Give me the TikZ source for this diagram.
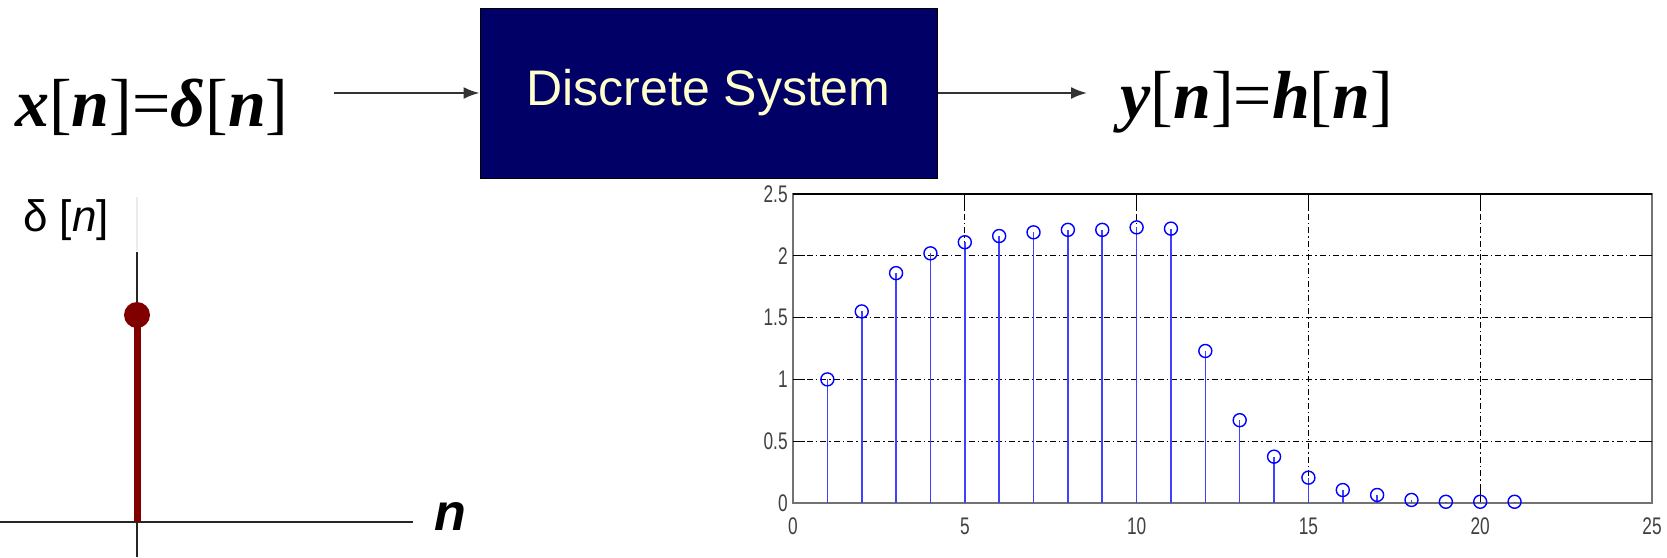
\documentclass[tikz,border=0pt]{standalone}
\usepackage{fontspec}
\setmainfont{Liberation Serif}
\setsansfont{Liberation Sans}
\usepackage{tikz}
\usetikzlibrary{arrows.meta,positioning}

\definecolor{sysfill}{RGB}{0,0,102}
\definecolor{systext}{RGB}{255,255,204}
\definecolor{deltared}{RGB}{128,0,0}
\newcommand{\bfit}[1]{\textbf{\textit{#1}}}
\newcommand{\tlab}[1]{\scalebox{0.72}[1]{#1}}

\begin{document}
\begin{tikzpicture}[x=1pt, y=1pt,
  sig/.style={inner sep=0pt, font=\fontsize{68}{68}\selectfont},
  sysbox/.style={draw=black, line width=1pt, fill=sysfill, text=systext,
    minimum width=457pt, minimum height=170pt,
    font=\sffamily\fontsize{50}{50}\selectfont},
  flow/.style={-{Latex[length=16pt,width=12pt]}, line width=2pt, draw=black!80},
  grd/.style={black, line width=1.2pt, dash pattern=on 6pt off 3pt on 1.5pt off 3pt},
  tk/.style={text=black!75, inner sep=0pt, font=\sffamily\fontsize{24}{24}\selectfont},
  stm/.style={blue!75, line width=1.6pt},
  mk/.style={circle, draw=blue, line width=1.4pt, minimum size=13pt, inner sep=0pt}]
  \useasboundingbox (0,0) rectangle (1667,-557);

  % block diagram
  \node[sysbox] (sys) at (708.5,-93) {Discrete System};
  \node[sig, anchor=base west] (xin) at (15,-126)
       {\bfit{x}[\bfit{n}]=\bfit{δ}[\bfit{n}]};
  \node[sig, anchor=base west] (yout) at (1120,-118)
       {\bfit{y}[\bfit{n}]=\bfit{h}[\bfit{n}]};
  \draw[flow, shorten <=45pt] (xin.east |- sys.west) -- (sys.west);
  \draw[flow, shorten >=33pt] (sys.east) -- (sys.east -| yout.west);

  % unit impulse
  \draw[black!8, line width=1.5pt] (137,-197) -- (137,-251);
  \draw[black!85, line width=2pt] (0,-521.7) -- (413,-521.7);
  \draw[black!85, line width=1.5pt] (137,-252) -- (137,-557);
  \draw[deltared, line width=7pt] (137,-521.7) -- (137,-315);
  \fill[deltared] (137,-315) circle (13);
  \node[font=\sffamily\fontsize{44}{44}\selectfont] (dlab) at (66,-220)
       {δ [\textit{n}]};
  \node[font=\sffamily\bfseries\itshape\fontsize{52}{52}\selectfont] (nlab)
       at (450,-517) {n};

  % impulse response h[n]
  \begin{scope}[shift={(793,-503)}, x=34.36pt, y=123.6pt]
    \foreach \v in {0.5,1,1.5,2} \draw[grd] (0,\v) -- (25,\v);
    \foreach \u in {5,10,15,20} \draw[grd] (\u,0) -- (\u,2.5);
    \draw[black!55, line width=1.6pt] (0,0) rectangle (25,2.5);
    \draw[line width=2.6pt] (0,2.5) -- (25,2.5);
    \foreach \u in {5,10,15,20} {
      \draw[line width=1.3pt] (\u,2.5) -- (\u,2.38);
      \draw[line width=1.3pt] (\u,0) -- (\u,0.12);
    }
    \foreach \v in {0.5,1,1.5,2} {
      \draw[line width=1.3pt] (0,\v) -- (0.35,\v);
      \draw[line width=1.3pt] (25,\v) -- (24.65,\v);
    }
    \foreach \u in {0,5,10,15,20,25}
      \node[tk] (xt\u) at (\u,-0.19) {\tlab{\u}};
    \foreach \v in {0,0.5,1,1.5,2,2.5}
      \node[tk, anchor=east] (yt\v) at (-0.15,\v) {\tlab{\v}};

    \foreach \k/\h in {1/1.00,2/1.55,3/1.86,4/2.02,5/2.11,6/2.16,7/2.19,
                       8/2.21,9/2.21,10/2.23,11/2.22,12/1.23,13/0.67,
                       14/0.375,15/0.205,16/0.105,17/0.065,18/0.025,
                       19/0.01,20/0.01,21/0.01} {
      \draw[stm] (\k,0) -- (\k,\h);
      \node[mk] (p\k) at (\k,\h) {};
    }
  \end{scope}
\end{tikzpicture}
\end{document}
